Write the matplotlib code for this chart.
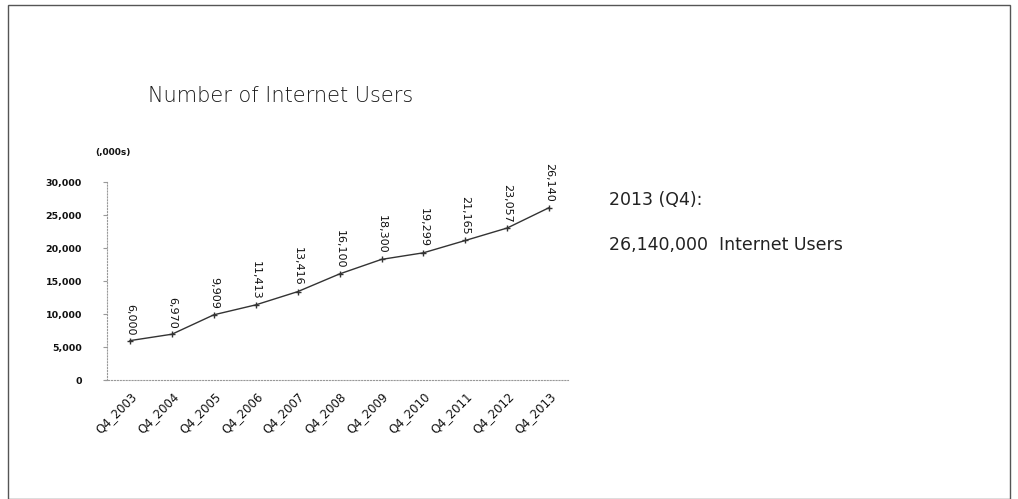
import matplotlib.pyplot as plt
from matplotlib.patches import Rectangle

quarters = ['Q4_2003', 'Q4_2004', 'Q4_2005', 'Q4_2006', 'Q4_2007', 'Q4_2008',
            'Q4_2009', 'Q4_2010', 'Q4_2011', 'Q4_2012', 'Q4_2013']
users = [6000, 6970, 9909, 11413, 13416, 16100, 18300, 19299, 21165, 23057, 26140]
yticks = [0, 5000, 10000, 15000, 20000, 25000, 30000]

fig = plt.figure(figsize=(10.18, 4.99), dpi=100)

# outer frame
fig.patches.append(Rectangle((0.008, 0.0), 0.984, 0.99, transform=fig.transFigure,
                             fill=False, edgecolor='#555555', linewidth=1.0))

fig.text(0.145, 0.795, 'Number of Internet Users', fontsize=15, color='#1a1a1a',
         family='DejaVu Sans', fontweight='light')

ax = fig.add_axes([0.103, 0.238, 0.455, 0.397])
for s in ['top', 'right']:
    ax.spines[s].set_visible(False)
ax.spines['left'].set_position(('data', -0.55))
ax.spines['left'].set_linestyle(':')
ax.spines['left'].set_color('#999999')
ax.spines['bottom'].set_linestyle(':')
ax.spines['bottom'].set_color('#999999')

x = list(range(len(quarters)))
ax.plot(x, users, color='#333333', linewidth=1.0, marker='+', markersize=4)

for xi, v in zip(x, users):
    ax.annotate(f'{v:,}', (xi, v), xytext=(0, 4), textcoords='offset points',
                rotation=-90, ha='center', va='bottom', fontsize=8,
                color='#111111', annotation_clip=False)

ax.set_xlim(-0.6, 10.45)
ax.set_ylim(0, 30000)
ax.set_xticks(x)
ax.set_xticklabels(quarters, rotation=45, ha='right', rotation_mode='anchor',
                   fontsize=8.5, color='#111111')
ax.set_yticks(yticks)
ax.set_yticklabels([f'{t:,}' for t in yticks], fontsize=6.8, fontweight='bold',
                   color='#111111')
ax.tick_params(axis='x', length=0, pad=7)
ax.tick_params(axis='y', length=3, color='#999999', pad=15)

ax.text(-0.02, 1.135, '(,000s)', transform=ax.transAxes, fontsize=6.5,
        fontweight='bold', color='#111111')

fig.text(0.598, 0.59, '2013 (Q4):', fontsize=12.5, color='#222222')
fig.text(0.598, 0.5, '26,140,000  Internet Users', fontsize=12.5, color='#222222')

fig.savefig('out.png', dpi=100)
